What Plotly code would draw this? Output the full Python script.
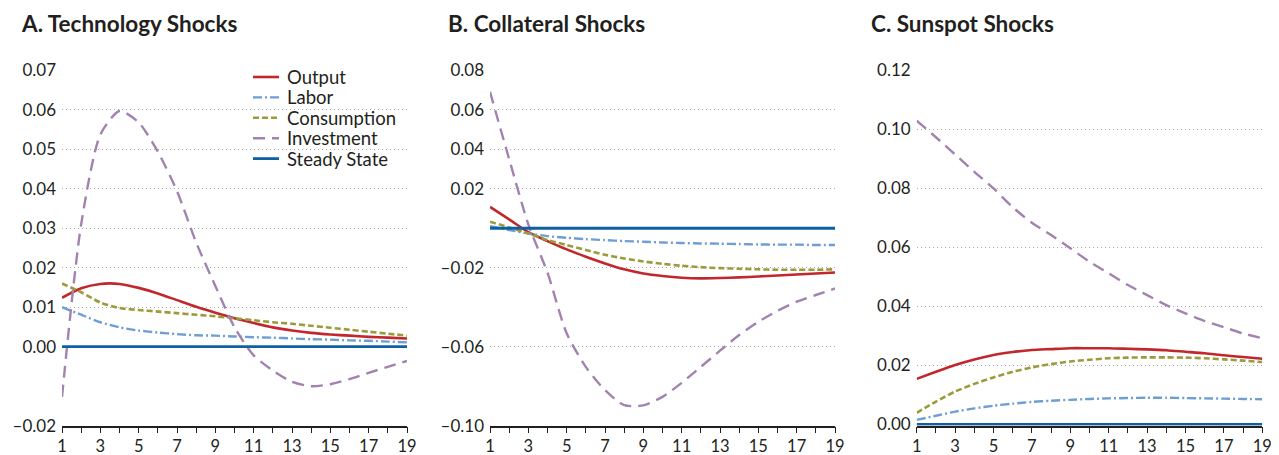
import plotly.graph_objects as go

# Page offset: the browser body has an 8px margin, so the figure is placed at (8, 8).
OFF = 8
W, H = 1279 - OFF, 455 - OFF


def px(x):
    return (x - OFF) / W


def py(y):
    return (H - (y - OFF)) / H


periods = list(range(1, 20))

# Panel A: Technology shocks
a_output = [0.0124, 0.0148, 0.0159, 0.0159, 0.0149, 0.0135, 0.0118, 0.0101, 0.0086, 0.0072,
            0.0060, 0.0049, 0.0041, 0.0035, 0.0031, 0.0028, 0.0025, 0.0023, 0.0021]
a_labor = [0.0100, 0.0081, 0.0062, 0.0049, 0.0041, 0.0036, 0.0032, 0.0029, 0.0028, 0.0026,
           0.0024, 0.0023, 0.0021, 0.0019, 0.0018, 0.0016, 0.0015, 0.0013, 0.0011]
a_consumption = [0.0160, 0.0138, 0.0112, 0.0098, 0.0093, 0.0089, 0.0085, 0.0081, 0.0077, 0.0072,
                 0.0067, 0.0062, 0.0058, 0.0053, 0.0048, 0.0043, 0.0038, 0.0033, 0.0028]
a_investment = [-0.0127, 0.0310, 0.0537, 0.0597, 0.0568, 0.0494, 0.0394, 0.0264, 0.0154, 0.0049,
                -0.0022, -0.0060, -0.0089, -0.0100, -0.0095, -0.0082, -0.0066, -0.0051, -0.0036]
a_steady = [0.0] * 19

# Panel B: Collateral shocks
b_output = [0.0108, 0.0045, -0.0020, -0.0065, -0.0107, -0.0144, -0.0178, -0.0208, -0.0229, -0.0242,
            -0.0251, -0.0254, -0.0252, -0.0249, -0.0244, -0.0239, -0.0234, -0.0229, -0.0224]
b_labor = [0.0011, -0.0009, -0.0026, -0.0040, -0.0048, -0.0055, -0.0060, -0.0065, -0.0068, -0.0072,
           -0.0075, -0.0077, -0.0078, -0.0080, -0.0082, -0.0083, -0.0083, -0.0085, -0.0085]
b_consumption = [0.0033, 0.0004, -0.0026, -0.0060, -0.0085, -0.0110, -0.0134, -0.0153, -0.0168, -0.0180,
                 -0.0190, -0.0197, -0.0202, -0.0205, -0.0208, -0.0210, -0.0210, -0.0210, -0.0208]
b_investment = [0.0691, 0.0350, 0.0020, -0.0225, -0.0532, -0.0702, -0.0820, -0.0896, -0.0897, -0.0854,
                -0.0783, -0.0702, -0.0620, -0.0541, -0.0474, -0.0418, -0.0372, -0.0338, -0.0305]
b_steady = [0.0] * 19

# Panel C: Sunspot shocks
c_output = [0.0154, 0.0178, 0.0201, 0.0220, 0.0235, 0.0245, 0.0252, 0.0255, 0.0258, 0.0258,
            0.0258, 0.0256, 0.0254, 0.0251, 0.0246, 0.0241, 0.0234, 0.0228, 0.0222]
c_labor = [0.0015, 0.0029, 0.0043, 0.0054, 0.0063, 0.0070, 0.0076, 0.0080, 0.0083, 0.0086,
           0.0088, 0.0089, 0.0090, 0.0090, 0.0089, 0.0088, 0.0087, 0.0086, 0.0085]
c_consumption = [0.0039, 0.0077, 0.0111, 0.0137, 0.0159, 0.0178, 0.0193, 0.0204, 0.0213, 0.0219,
                 0.0224, 0.0226, 0.0227, 0.0227, 0.0226, 0.0224, 0.0220, 0.0216, 0.0211]
c_investment = [0.1029, 0.0973, 0.0915, 0.0856, 0.0800, 0.0736, 0.0683, 0.0642, 0.0597, 0.0551,
                0.0512, 0.0472, 0.0438, 0.0404, 0.0376, 0.0350, 0.0329, 0.0308, 0.0292]
c_steady = [0.0] * 19

titles = ["A. Technology Shocks", "B. Collateral Shocks", "C. Sunspot Shocks"]
series_names = ["Output", "Labor", "Consumption", "Investment", "Steady State"]

a_ticks = [-0.02, 0.00, 0.01, 0.02, 0.03, 0.04, 0.05, 0.06, 0.07]
a_ticktext = ["\u20130.02", "0.00", "0.01", "0.02", "0.03", "0.04", "0.05", "0.06", "0.07"]
b_ticks = [-0.10, -0.06, -0.02, 0.02, 0.04, 0.06, 0.08]
b_ticktext = ["\u20130.10", "\u20130.06", "\u20130.02", "0.02", "0.04", "0.06", "0.08"]
c_ticks = [0.00, 0.02, 0.04, 0.06, 0.08, 0.10, 0.12]
c_ticktext = ["0.00", "0.02", "0.04", "0.06", "0.08", "0.10", "0.12"]
x_ticks = [1, 3, 5, 7, 9, 11, 13, 15, 17, 19]

styles = {
    "Output": dict(color="#C1272D", width=2.6, dash="solid"),
    "Labor": dict(color="#6E9ED3", width=2.4, dash="9px,3px,2px,3px"),
    "Consumption": dict(color="#9C9B3C", width=2.6, dash="6px,3px"),
    "Investment": dict(color="#A283AF", width=2.4, dash="12px,7px"),
    "Steady State": dict(color="#0F5FA3", width=2.8, dash="solid"),
}

panels = [
    (a_output, a_labor, a_consumption, a_investment, a_steady),
    (b_output, b_labor, b_consumption, b_investment, b_steady),
    (c_output, c_labor, c_consumption, c_investment, c_steady),
]

FONT = "Lato"
TXT = "#231F20"
YTICK_SIZE = 17
XTICK_SIZE = 16.5
LEGEND_SIZE = 18.5
TITLE_SIZE = 22.5

fig = go.Figure()
for p, data in enumerate(panels):
    suffix = "" if p == 0 else str(p + 1)
    for name, vals in zip(series_names, data):
        fig.add_trace(go.Scatter(
            x=periods, y=vals, mode="lines", name=name,
            line=dict(**styles[name], shape="spline", smoothing=0.7), showlegend=False,
            xaxis="x" + suffix, yaxis="y" + suffix, cliponaxis=False,
        ))

x_domains = [[px(62), px(407)], [px(490), px(835)], [px(916.7), px(1262.3)]]
y_domains = [[py(425.7), py(70.3)], [py(425.7), py(70.3)], [py(425.5), py(70.3)]]
y_ranges = [[-0.02, 0.07], [-0.10, 0.08], [-0.0004, 0.12]]
y_tickvals = [a_ticks, b_ticks, c_ticks]
y_ticktexts = [a_ticktext, b_ticktext, c_ticktext]

layout = dict(
    width=W, height=H,
    margin=dict(l=0, r=0, t=0, b=0, autoexpand=False),
    paper_bgcolor="white", plot_bgcolor="white",
    font=dict(family=FONT, size=YTICK_SIZE, color=TXT),
    showlegend=False,
    annotations=[], shapes=[],
)

for p in range(3):
    suffix = "" if p == 0 else str(p + 1)
    layout["xaxis" + suffix] = dict(
        domain=x_domains[p], range=[1, 19], anchor="y" + suffix, automargin=False,
        tickvals=x_ticks, ticks="outside", ticklen=6, tickwidth=1.2, tickcolor="#231F20",
        showline=True, linecolor="#231F20", linewidth=1.5, layer="below traces",
        showgrid=False, zeroline=False,
        minor=dict(ticks="outside", dtick=1, tick0=0, ticklen=6, tickwidth=1.2,
                   tickcolor="#231F20", showgrid=False),
        tickfont=dict(size=XTICK_SIZE, family=FONT, color=TXT),
        ticklabelstandoff=-1,
    )
    layout["yaxis" + suffix] = dict(
        domain=y_domains[p], range=y_ranges[p], anchor="x" + suffix, automargin=False,
        tickvals=y_tickvals[p], ticktext=y_ticktexts[p], ticks="",
        showline=False, zeroline=False, layer="below traces",
        showgrid=True, gridcolor="#A8A8A8", gridwidth=1, griddash="1px,3px",
        tickfont=dict(size=YTICK_SIZE, family=FONT, color=TXT),
        ticklabelstandoff=5,
    )
    layout["annotations"].append(dict(
        text=titles[p], xref="paper", yref="paper",
        x=px([20, 447, 870][p]), y=py(8.5), xanchor="left", yanchor="top",
        borderpad=0,
        showarrow=False, font=dict(family=FONT, size=TITLE_SIZE, color=TXT, weight=700),
    ))

# Legend for panel A (built from the same series styles)
leg_x0, leg_x1, leg_tx = 253, 279, 285
for i, name in enumerate(series_names):
    yc = 77 + i * 20.4
    st = styles[name]
    layout["shapes"].append(dict(
        type="line", xref="paper", yref="paper",
        x0=px(leg_x0), x1=px(leg_x1), y0=py(yc), y1=py(yc),
        line=dict(color=st["color"], width=st["width"], dash=st["dash"]),
    ))
    layout["annotations"].append(dict(
        text=name, xref="paper", yref="paper",
        x=px(leg_tx), y=py(yc), xanchor="left", yanchor="middle",
        showarrow=False, font=dict(family=FONT, size=LEGEND_SIZE, color=TXT),
    ))

fig.update_layout(**layout)
fig.write_html("out.html")
